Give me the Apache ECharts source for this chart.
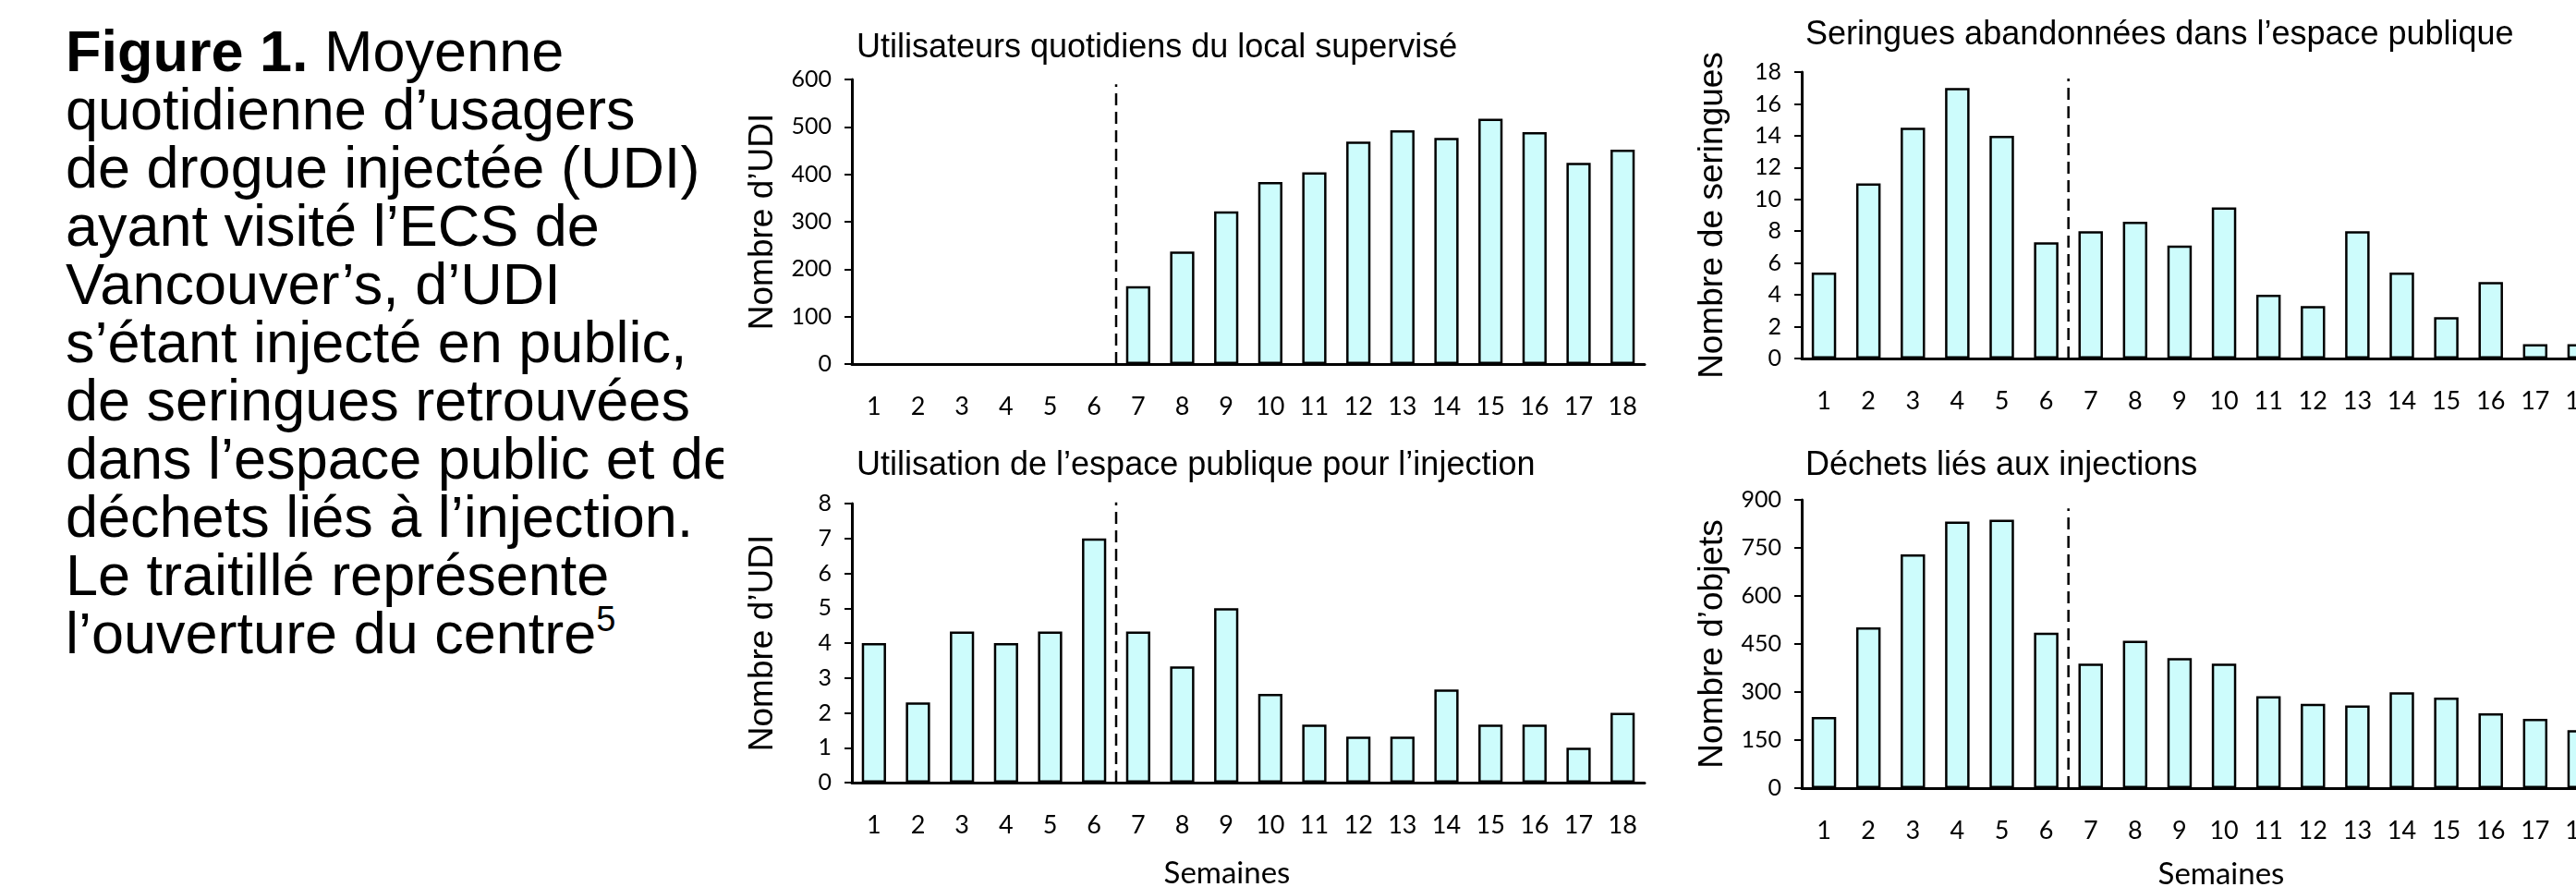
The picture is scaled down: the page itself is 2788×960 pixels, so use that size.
<!DOCTYPE html>
<html>
<head>
<meta charset="utf-8">
<script src="https://cdn.jsdelivr.net/npm/echarts@6/dist/echarts.min.js"></script>
<style>
  html, body { margin: 0; padding: 0; background: #fff; width: 2788px; height: 960px; overflow: hidden; }
  #caption {
    position: absolute; left: 71px; top: 24px; width: 712px; overflow: hidden;
    font-family: "Liberation Sans", Arial, sans-serif; font-size: 63px; line-height: 63px;
    color: #000; white-space: nowrap;
  }
  #caption sup { font-size: 38px; vertical-align: 0; position: relative; top: -24px; }
  #chart { position: absolute; left: 0; top: 0; width: 2788px; height: 960px; }
</style>
</head>
<body>
<div id="caption">
<div><b>Figure 1.</b> Moyenne</div>
<div>quotidienne d’usagers</div>
<div>de drogue injectée (UDI)</div>
<div>ayant visité l’ECS de</div>
<div>Vancouver’s, d’UDI</div>
<div>s’étant injecté en public,</div>
<div>de seringues retrouvées</div>
<div>dans l’espace public et de</div>
<div>déchets liés à l’injection.</div>
<div>Le traitillé représente</div>
<div>l’ouverture du centre<sup>5</sup></div>
</div>
<div id="chart"></div>
<script>
// ---- data ----
const weeks = ['1','2','3','4','5','6','7','8','9','10','11','12','13','14','15','16','17','18'];
const usersDaily = [null, null, null, null, null, null, 164, 237, 322, 384, 404, 469, 493, 477, 517, 489, 424, 452];
const publicInjection = [4, 2.3, 4.33, 4, 4.33, 7, 4.33, 3.33, 5, 2.54, 1.66, 1.32, 1.32, 2.67, 1.66, 1.66, 1.0, 2.0];
const syringes = [5.4, 11, 14.5, 17, 14, 7.3, 8, 8.6, 7.1, 9.5, 4, 3.3, 8, 5.4, 2.6, 4.8, 0.9, 0.9];
const waste = [222, 502, 730, 832, 838, 485, 389, 460, 406, 389, 287, 263, 258, 299, 283, 234, 216, 181];

const titles = [
  'Utilisateurs quotidiens du local supervisé',
  'Seringues abandonnées dans l’espace publique',
  'Utilisation de l’espace publique pour l’injection',
  'Déchets liés aux injections'
];
const yNames = ['Nombre d’UDI', 'Nombre de seringues', 'Nombre d’UDI', 'Nombre d’objets'];
// [min, max, interval]
const yRanges = [[0, 600, 100], [0, 18, 2], [0, 8, 1], [0, 900, 150]];
const xName = 'Semaines';
const openingBoundary = 6.5;            // between week 6 and week 7
const dashTops = [590, 17.6, 8.3, 873];  // top of the dashed line, in data units

// ---- layout ----
const grids = [
  { left: 922,  top: 86,  width: 858, height: 308 },
  { left: 1950, top: 78,  width: 866, height: 310 },
  { left: 922,  top: 545, width: 858, height: 302 },
  { left: 1950, top: 541, width: 866, height: 312 }
];
const titlePos = [[927, 34], [1954, 20], [927, 486], [1954, 486]];
const semainesPos = [[1328, 929], [2404, 930]];
const seriesData = [usersDaily, syringes, publicInjection, waste];

const FILL = '#cdfcfc';
const labelFont = 'Lato, "Open Sans", sans-serif';
const textFont = '"Liberation Sans", Arial, sans-serif';

const option = {
  backgroundColor: 'transparent',
  animation: false,
  title: titles.map((t, i) => ({
    text: t, left: titlePos[i][0], top: titlePos[i][1], padding: 0,
    textStyle: { fontFamily: textFont, fontSize: 36, fontWeight: 'normal', color: '#000' }
  })),
  grid: grids.map(g => Object.assign({ containLabel: false, outerBoundsMode: 'none' }, g)),
  xAxis: [],
  yAxis: [],
  series: [],
  graphic: semainesPos.map(p => ({
    type: 'text', x: p[0], y: p[1],
    style: { text: xName, fill: '#000', font: '33px ' + labelFont, textAlign: 'center', textVerticalAlign: 'top' }
  }))
};

for (let i = 0; i < 4; i++) {
  option.xAxis.push({
    type: 'category', gridIndex: i, data: weeks, boundaryGap: true,
    axisLine: { show: true, lineStyle: { color: '#000', width: 3 } },
    axisTick: { show: false },
    axisLabel: { interval: 0, margin: 33, fontFamily: labelFont, fontSize: 27, color: '#000' },
    splitLine: { show: false }
  });
  option.xAxis.push({
    type: 'value', gridIndex: i, min: 0.5, max: 18.5, show: false
  });
  option.yAxis.push({
    type: 'value', gridIndex: i, min: yRanges[i][0], max: yRanges[i][1], interval: yRanges[i][2],
    name: yNames[i], nameLocation: 'middle', nameGap: 78,
    nameTextStyle: { fontFamily: textFont, fontSize: 37, color: '#000' },
    axisLine: { show: true, lineStyle: { color: '#000', width: 3 } },
    axisTick: { show: true, length: 8, lineStyle: { color: '#000', width: 2 } },
    axisLabel: { margin: 22, fontFamily: labelFont, fontSize: 25, color: '#000' },
    splitLine: { show: false }
  });
  option.series.push({
    type: 'bar', xAxisIndex: 2 * i, yAxisIndex: i, data: seriesData[i],
    barWidth: '55%',
    itemStyle: { color: FILL, borderColor: '#000', borderWidth: 2.5 }
  });
  option.series.push({
    type: 'line', xAxisIndex: 2 * i + 1, yAxisIndex: i,
    data: [[openingBoundary, 0], [openingBoundary, dashTops[i]]],
    symbol: 'none', silent: true,
    lineStyle: { color: '#000', width: 2.5, type: [13, 7] }
  });
}

const chart = echarts.init(document.getElementById('chart'), null, { renderer: 'canvas' });
chart.setOption(option);
</script>
</body>
</html>
